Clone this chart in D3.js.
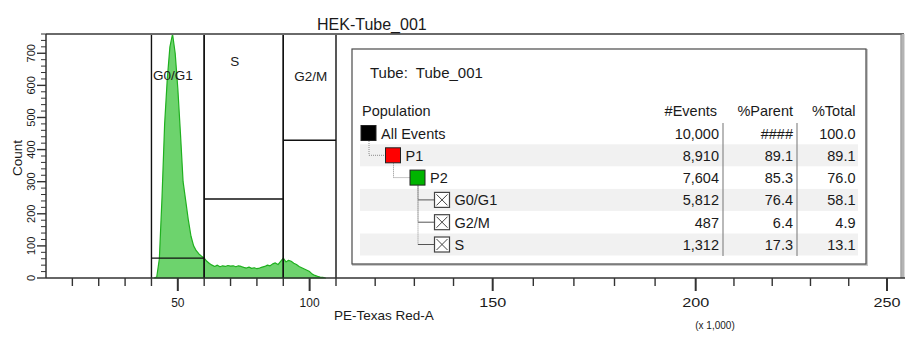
<!DOCTYPE html>
<html lang="en">
  <head>
    <meta charset="utf-8" />
    <title>HEK-Tube_001</title>
    <script src="https://cdn.jsdelivr.net/npm/d3@7"></script>
    <style>
      body { margin: 0; background: #fff; }
      svg { display: block; font-family: "Liberation Sans", Arial, sans-serif; }
    </style>
  </head>
  <body>
    <script>
      // histogram of PE-Texas Red-A (x 1,000), one bin per unit
      const histX = [
        41, 42, 43, 44, 45, 46, 47, 48, 49, 50, 51, 52, 53, 54, 55, 56, 57, 58,
        59, 60, 61, 62, 63, 64, 65, 66, 67, 68, 69, 70, 71, 72, 73, 74, 75, 76,
        77, 78, 79, 80, 81, 82, 83, 84, 85, 86, 87, 88, 89, 90, 91, 92, 93, 94,
        95, 96, 97, 98, 99, 100, 101, 102, 103, 104, 105, 106
      ];
      const histCount = [
        0, 3, 60, 250, 480, 620, 720, 760, 700, 590, 450, 300, 240, 180, 130,
        100, 85, 75, 68, 62, 52, 45, 40, 36, 40, 35, 38, 36, 39, 37, 38, 35, 38,
        36, 33, 31, 34, 30, 32, 29, 31, 34, 36, 40, 38, 44, 47, 42, 52, 62, 50,
        55, 52, 46, 42, 36, 32, 28, 24, 20, 12, 8, 5, 3, 2, 0
      ];

      // interval gates
      const gateNames = ["G0/G1", "S", "G2/M"];
      const gateStart = [40, 60, 90];
      const gateEnd = [60, 90, 110];
      const gateLevel = [62, 246, 429];

      // axis ticks
      const xMajorTicks = [50, 100, 150, 200, 250];
      const xMinorTicks = [10, 20, 30, 40, 60, 70, 80, 90, 110, 120, 130, 140,
        160, 170, 180, 190, 210, 220, 230, 240];
      const yMajorTicks = [0, 100, 200, 300, 400, 500, 600, 700];

      // population hierarchy table
      const tubeName = "Tube_001";
      const populations = ["All Events", "P1", "P2", "G0/G1", "G2/M", "S"];
      const popDepth = [0, 1, 2, 3, 3, 3];
      const popEvents = [10000, 8910, 7604, 5812, 487, 1312];
      const popParent = [100, 89.1, 85.3, 76.4, 6.4, 17.3];
      const popTotal = [100.0, 89.1, 76.0, 58.1, 4.9, 13.1];
      const popColor = ["#000000", "#ff0000", "#00b400", null, null, null];

      const width = 913, height = 338;
      const plotLeft = 46, plotTop = 34, plotBottom = 278;

      const svg = d3.select("body").append("svg")
        .attr("width", width)
        .attr("height", height);

      // the axis is stretched past 110, so the scale is piecewise
      const x = d3.scaleLinear()
        .domain([0, 110, 150, 200, 250])
        .range([plotLeft, 336, 492.7, 695.7, 887]);
      const y = d3.scaleLinear().domain([0, 760]).range([plotBottom, plotTop]);

      const ink = "#1a1a1a";

      // histogram
      const area = d3.area()
        .x((d, i) => x(histX[i]))
        .y0(y(0))
        .y1((d) => y(d));
      svg.append("path")
        .datum(histCount)
        .attr("d", area)
        .attr("fill", "#6dd36d")
        .attr("stroke", "#1fb01f")
        .attr("stroke-width", 1.2)
        .attr("stroke-linejoin", "round");

      // gates: vertical borders plus a level bar
      const gates = gateNames.map((name, i) => ({
        name, x0: gateStart[i], x1: gateEnd[i], level: gateLevel[i]
      }));
      const gateG = svg.append("g").attr("stroke", "#111").attr("stroke-width", 1.4);
      gates.forEach((g) => {
        gateG.append("line")
          .attr("x1", x(g.x0)).attr("x2", x(g.x0))
          .attr("y1", plotTop).attr("y2", plotBottom);
        gateG.append("line")
          .attr("x1", x(g.x1)).attr("x2", x(g.x1))
          .attr("y1", plotTop).attr("y2", plotBottom);
        gateG.append("line")
          .attr("x1", x(g.x0)).attr("x2", x(g.x1))
          .attr("y1", y(g.level)).attr("y2", y(g.level));
      });
      const gateLabelDx = [-5, -9, 1];
      const gateLabelY = [80, 66, 81];
      svg.append("g")
        .selectAll("text")
        .data(gates)
        .join("text")
        .attr("x", (d, i) => (x(d.x0) + x(d.x1)) / 2 + gateLabelDx[i])
        .attr("y", (d, i) => gateLabelY[i])
        .attr("text-anchor", "middle")
        .attr("font-size", 13.5)
        .attr("fill", ink)
        .text((d) => d.name);

      // frame
      svg.append("line")
        .attr("x1", plotLeft).attr("x2", 904)
        .attr("y1", plotTop).attr("y2", plotTop)
        .attr("stroke", "#6a6a6a").attr("stroke-width", 2);
      svg.append("line")
        .attr("x1", 903).attr("x2", 903)
        .attr("y1", plotTop).attr("y2", plotBottom)
        .attr("stroke", "#b4b4b4").attr("stroke-width", 3);
      svg.append("line")
        .attr("x1", 901).attr("x2", 901)
        .attr("y1", plotTop).attr("y2", plotBottom)
        .attr("stroke", "#777").attr("stroke-width", 1);

      // y axis
      const yMinor = d3.range(0, 761, 20).filter((v) => v % 100 !== 0);
      const yAxisG = svg.append("g").attr("stroke", "#333");
      yAxisG.append("line")
        .attr("x1", plotLeft).attr("x2", plotLeft)
        .attr("y1", plotTop).attr("y2", plotBottom)
        .attr("stroke-width", 1.5);
      yAxisG.selectAll(".minor")
        .data(yMinor)
        .join("line")
        .attr("x1", plotLeft - 5).attr("x2", plotLeft)
        .attr("y1", (d) => y(d)).attr("y2", (d) => y(d));
      yAxisG.selectAll(".major")
        .data(yMajorTicks)
        .join("line")
        .attr("x1", plotLeft - 9).attr("x2", plotLeft)
        .attr("y1", (d) => y(d)).attr("y2", (d) => y(d))
        .attr("stroke-width", 1.4);
      svg.append("g")
        .selectAll("text")
        .data(yMajorTicks)
        .join("text")
        .attr("transform", (d) => `translate(35,${y(d)}) rotate(-90)`)
        .attr("text-anchor", "middle")
        .attr("font-size", 11)
        .attr("fill", ink)
        .text((d) => d);
      svg.append("text")
        .attr("transform", "translate(22,158) rotate(-90)")
        .attr("text-anchor", "middle")
        .attr("font-size", 13.5)
        .attr("fill", ink)
        .text("Count");

      // x axis
      const xAxisG = svg.append("g").attr("stroke", "#333");
      xAxisG.append("line")
        .attr("x1", plotLeft).attr("x2", 905)
        .attr("y1", plotBottom).attr("y2", plotBottom)
        .attr("stroke-width", 1.5);
      xAxisG.selectAll(".minor")
        .data(xMinorTicks)
        .join("line")
        .attr("x1", (d) => x(d)).attr("x2", (d) => x(d))
        .attr("y1", plotBottom).attr("y2", plotBottom + 8)
        .attr("stroke-width", 1.4);
      xAxisG.selectAll(".major")
        .data(xMajorTicks)
        .join("line")
        .attr("x1", (d) => x(d)).attr("x2", (d) => x(d))
        .attr("y1", plotBottom).attr("y2", plotBottom + 13)
        .attr("stroke-width", 2);
      svg.append("g")
        .selectAll("text")
        .data(xMajorTicks)
        .join("text")
        .attr("transform", (d) => `translate(${x(d)},307) scale(${d > 110 ? 1.35 : 1},1)`)
        .attr("text-anchor", "middle")
        .attr("font-size", 12)
        .attr("fill", ink)
        .text((d) => d);
      svg.append("text")
        .attr("x", 334).attr("y", 320)
        .attr("font-size", 13.5)
        .attr("fill", ink)
        .text("PE-Texas Red-A");
      svg.append("text")
        .attr("x", 715).attr("y", 329)
        .attr("text-anchor", "middle")
        .attr("font-size", 10)
        .attr("fill", ink)
        .text("(x 1,000)");

      // title
      svg.append("text")
        .attr("x", 317).attr("y", 30)
        .attr("font-size", 16)
        .attr("fill", ink)
        .text("HEK-Tube_001");

      // population hierarchy box
      const box = svg.append("g");
      box.append("rect")
        .attr("x", 353).attr("y", 50).attr("width", 514).attr("height", 215)
        .attr("fill", "none").attr("stroke", "#c8c8c8").attr("stroke-width", 2);
      box.append("rect")
        .attr("x", 352).attr("y", 49).attr("width", 514).attr("height", 215)
        .attr("fill", "#fff").attr("stroke", "#4a4a4a").attr("stroke-width", 1.2);

      box.append("text")
        .attr("x", 370).attr("y", 78)
        .attr("font-size", 15)
        .attr("fill", ink)
        .attr("xml:space", "preserve")
        .text("Tube:  " + tubeName);

      const rowY = (i) => 133 + i * 22.3;
      const iconX = (depth) => 361 + depth * 24.5;
      const colRight = [719, 793, 855.5];

      // shaded alternate rows
      box.selectAll(".band")
        .data(populations.map((p, i) => i).filter((i) => i % 2 === 1))
        .join("rect")
        .attr("x", 360).attr("width", 498)
        .attr("y", (i) => rowY(i) - 11).attr("height", 22)
        .attr("fill", "#f1f1f1");

      // header row
      const headerY = 115.5;
      box.append("text")
        .attr("x", 362).attr("y", headerY)
        .attr("font-size", 14.5).attr("fill", ink)
        .text("Population");
      ["#Events", "%Parent", "%Total"].forEach((h, j) => {
        box.append("text")
          .attr("x", colRight[j] - (j === 0 ? 2 : 0)).attr("y", headerY)
          .attr("text-anchor", "end")
          .attr("font-size", 14.5).attr("fill", ink)
          .text(h);
      });

      // column separators
      [723, 797].forEach((sx) => {
        box.append("line")
          .attr("x1", sx).attr("x2", sx)
          .attr("y1", 123).attr("y2", 256)
          .attr("stroke", "#8a8a8a").attr("stroke-width", 1.2);
      });

      // tree connectors
      populations.forEach((p, i) => {
        const d = popDepth[i];
        if (d === 0) return;
        let parent = i - 1;
        while (popDepth[parent] !== d - 1) parent--;
        const px = iconX(d - 1) + 8;
        box.append("line")
          .attr("x1", px).attr("x2", px)
          .attr("y1", rowY(parent) + 8).attr("y2", rowY(i))
          .attr("stroke", "#8c8c8c").attr("stroke-dasharray", "1,1");
        box.append("line")
          .attr("x1", px).attr("x2", iconX(d))
          .attr("y1", rowY(i)).attr("y2", rowY(i))
          .attr("stroke", popColor[i] ? "#8c8c8c" : "#555")
          .attr("stroke-dasharray", popColor[i] ? "1,1" : null);
      });

      // population icons: filled squares for populations, crossed boxes for gates
      populations.forEach((p, i) => {
        const ix = iconX(popDepth[i]);
        const iy = rowY(i) - 7.5;
        if (popColor[i]) {
          box.append("rect")
            .attr("x", ix).attr("y", iy).attr("width", 15).attr("height", 15)
            .attr("fill", popColor[i]).attr("stroke", "#222").attr("stroke-width", 1);
        } else {
          box.append("rect")
            .attr("x", ix).attr("y", iy).attr("width", 15).attr("height", 15)
            .attr("fill", "#fff").attr("stroke", "#444").attr("stroke-width", 1.2);
          box.append("path")
            .attr("d", `M${ix + 2},${iy + 2}L${ix + 13},${iy + 13}M${ix + 13},${iy + 2}L${ix + 2},${iy + 13}`)
            .attr("stroke", "#444").attr("stroke-width", 1);
        }
        box.append("text")
          .attr("x", ix + 20).attr("y", rowY(i) + 5.5)
          .attr("font-size", 14.5).attr("fill", ink)
          .text(p);
      });

      // statistics columns
      const fmtCount = d3.format(",");
      const fmtPct = (v) => (v >= 100 ? "####" : d3.format(".1f")(v));
      const cols = [
        popEvents.map(fmtCount),
        popParent.map(fmtPct),
        popTotal.map(d3.format(".1f"))
      ];
      cols.forEach((col, j) => {
        box.append("g")
          .selectAll("text")
          .data(col)
          .join("text")
          .attr("x", colRight[j]).attr("y", (d, i) => rowY(i) + 5.5)
          .attr("text-anchor", "end")
          .attr("font-size", 14.5).attr("fill", ink)
          .text((d) => d);
      });
    </script>
  </body>
</html>
